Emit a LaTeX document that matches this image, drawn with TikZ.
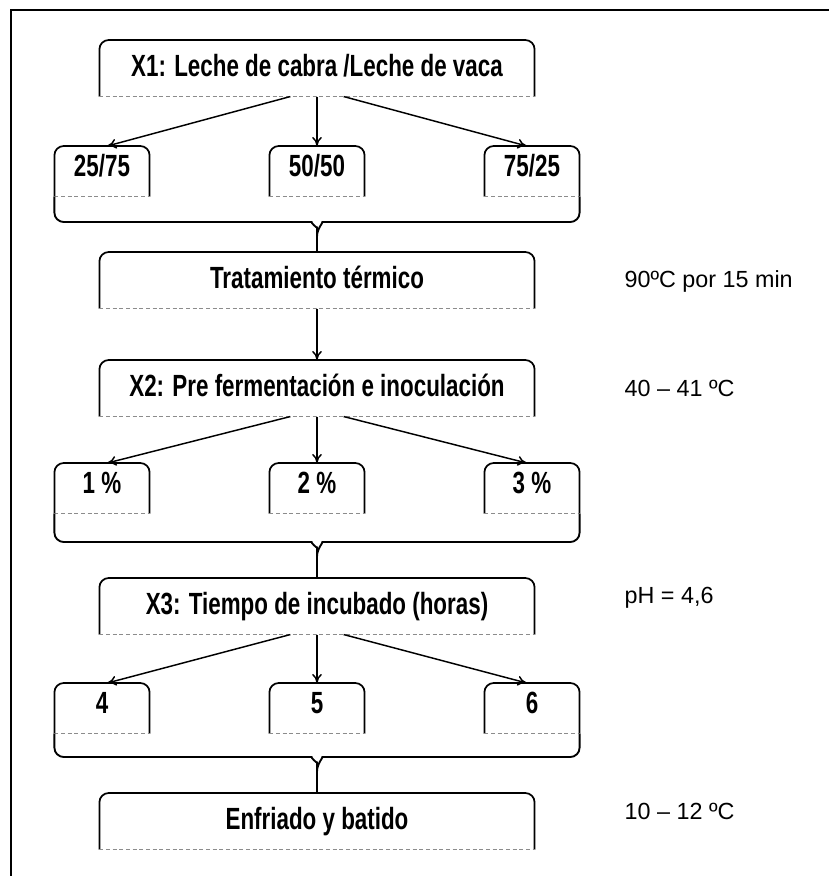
\documentclass[tikz,border=0pt]{standalone}
\usepackage{fontspec}
\setmainfont{Liberation Sans}
\newfontfamily\narrowsans[FakeStretch=0.73]{Liberation Sans}
\usetikzlibrary{arrows.meta,positioning}

\begin{document}
\begin{tikzpicture}[
  x=0.75pt,y=0.75pt,font=\narrowsans\bfseries\fontsize{23}{27}\selectfont,
  flow/.style={-{To[length=2.4mm,width=2.6mm]},line width=1.1pt},
  stage/.style={anchor=north,minimum width=326pt,inner sep=0pt,text height=27pt,text depth=15pt},
  level/.style={anchor=north,minimum width=71pt,inner sep=0pt,text height=23pt,text depth=14.5pt},
  boxside/.style={line width=1.3pt,rounded corners=7pt},
  boxfoot/.style={draw=black!45,line width=0.8pt,dash pattern=on 3pt off 2pt},
  gather/.style={line width=1.4pt,rounded corners=7pt},
  note/.style={anchor=base west,font=\normalfont\fontsize{17.5}{21}\selectfont}
]
\useasboundingbox (0,0) rectangle (831,-876);
% ---------- frame
\draw[line width=1.1pt] (11,-876) -- (11,-10) -- (829,-10);
% ---------- main stages
\node[stage] (x1)   at (317,-40)  {X1: Leche de cabra /Leche de vaca};
\node[stage] (trat) at (317,-252) {Tratamiento térmico};
\node[stage] (x2)   at (317,-360) {X2: Pre fermentación e inoculación};
\node[stage] (x3)   at (317,-578) {X3: Tiempo de incubado (horas)};
\node[stage] (enf)  at (317,-793) {Enfriado y batido};
% ---------- levels of each factor
\node[level] (r1a) at (102,-146) {25/75};
\node[level] (r1b) at (317,-146) {50/50};
\node[level] (r1c) at (532,-146) {75/25};
\node[level] (r2a) at (102,-463) {1 \%};
\node[level] (r2b) at (317,-463) {2 \%};
\node[level] (r2c) at (532,-463) {3 \%};
\node[level] (r3a) at (102,-683) {4};
\node[level] (r3b) at (317,-683) {5};
\node[level] (r3c) at (532,-683) {6};
\foreach \n in {x1,trat,x2,x3,enf,r1a,r1b,r1c,r2a,r2b,r2c,r3a,r3b,r3c}{
  \draw[boxside] (\n.south west) -- (\n.north west) -- (\n.north east) -- (\n.south east);
  \draw[boxfoot] (\n.south west) -- (\n.south east);
}
% ---------- process conditions
\node[note] (c1) at (620,-287) {90ºC por 15 min};
\node[note] (c2) at (620,-396) {40 – 41 ºC};
\node[note] (c3) at (620,-603) {pH = 4,6};
\node[note] (c4) at (620,-819) {10 – 12 ºC};
% ---------- arrows
\draw[flow] ([xshift=-20pt]x1.south) -- ([xshift=4pt]r1a.north);
\draw[flow] (x1.south) -- (r1b.north);
\draw[flow] ([xshift=20pt]x1.south) -- ([xshift=-4pt]r1c.north);
\draw[flow] (trat) -- (x2);
\draw[flow] ([xshift=-20pt]x2.south) -- ([xshift=4pt]r2a.north);
\draw[flow] (x2.south) -- (r2b.north);
\draw[flow] ([xshift=20pt]x2.south) -- ([xshift=-4pt]r2c.north);
\draw[flow] ([xshift=-20pt]x3.south) -- ([xshift=4pt]r3a.north);
\draw[flow] (x3.south) -- (r3b.north);
\draw[flow] ([xshift=20pt]x3.south) -- ([xshift=-4pt]r3c.north);
% ---------- joining brackets
\coordinate (b1) at (317,-222);
\coordinate (b2) at (317,-542);
\coordinate (b3) at (317,-757);
\draw[gather] (r1a.south west) |- ([xshift=-11pt]b1) to[out=0,in=90] ([yshift=-11pt]b1) -- (trat.north);
\draw[gather] (r1c.south east) |- ([xshift=11pt]b1) to[out=180,in=90] ([yshift=-11pt]b1);
\draw[gather] (r2a.south west) |- ([xshift=-11pt]b2) to[out=0,in=90] ([yshift=-11pt]b2) -- (x3.north);
\draw[gather] (r2c.south east) |- ([xshift=11pt]b2) to[out=180,in=90] ([yshift=-11pt]b2);
\draw[gather] (r3a.south west) |- ([xshift=-11pt]b3) to[out=0,in=90] ([yshift=-11pt]b3) -- (enf.north);
\draw[gather] (r3c.south east) |- ([xshift=11pt]b3) to[out=180,in=90] ([yshift=-11pt]b3);
\end{tikzpicture}
\end{document}
